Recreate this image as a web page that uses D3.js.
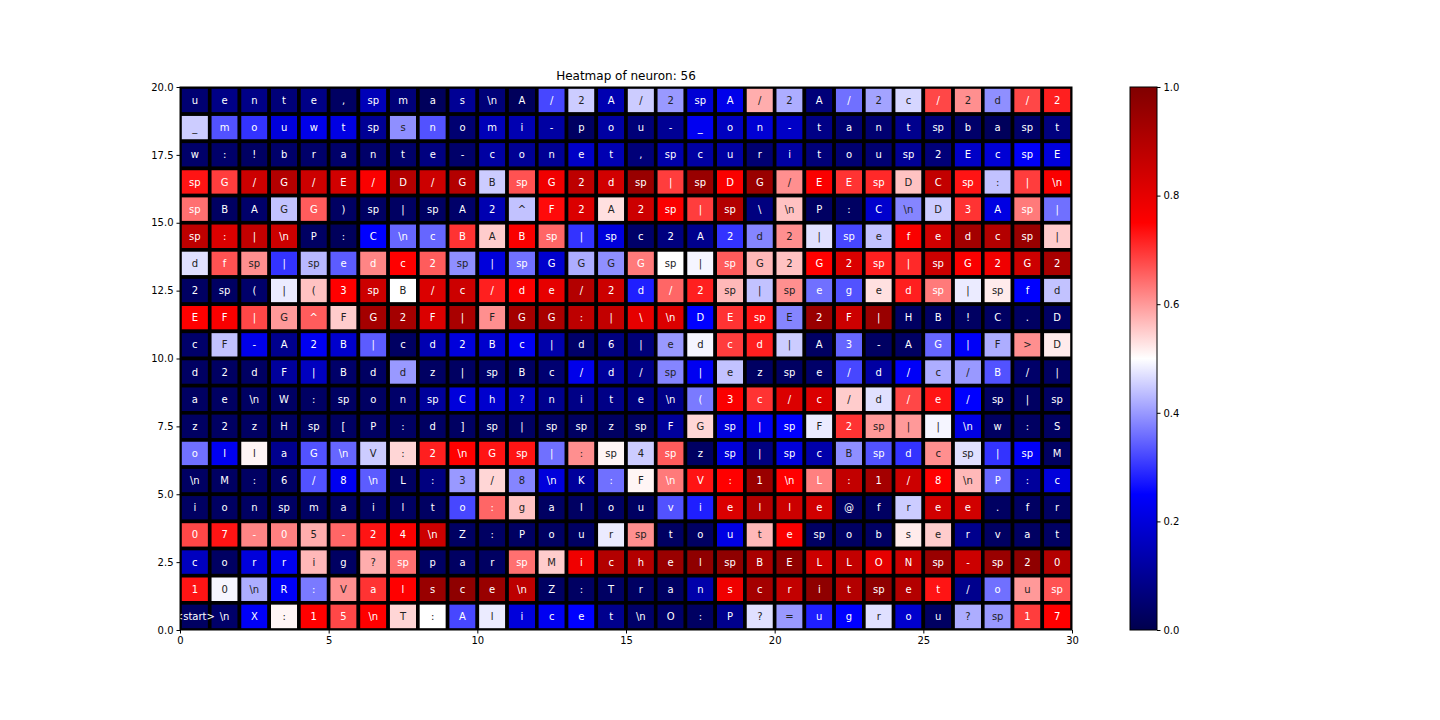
<!DOCTYPE html>
<html>
<head>
<meta charset="utf-8">
<script src="https://cdn.jsdelivr.net/npm/d3@7"></script>
<style>
body { margin: 0; background: #fff; }
text { font-family: "DejaVu Sans", sans-serif; }
</style>
</head>
<body>
<script>
// tokens, one row per line, top row of the heatmap first (y = 19)
var tokens = [
 ["u","e","n","t","e",",","sp","m","a","s","\\n","A","/","2","A","/","2","sp","A","/","2","A","/","2","c","/","2","d","/","2"],
 ["_","m","o","u","w","t","sp","s","n","o","m","i","-","p","o","u","-","_","o","n","-","t","a","n","t","sp","b","a","sp","t"],
 ["w",":","!","b","r","a","n","t","e","-","c","o","n","e","t",",","sp","c","u","r","i","t","o","u","sp","2","E","c","sp","E"],
 ["sp","G","/","G","/","E","/","D","/","G","B","sp","G","2","d","sp","|","sp","D","G","/","E","E","sp","D","C","sp",":","|","\\n"],
 ["sp","B","A","G","G",")","sp","|","sp","A","2","^","F","2","A","2","sp","|","sp","\\","\\n","P",":","C","\\n","D","3","A","sp","|"],
 ["sp",":","|","\\n","P",":","C","\\n","c","B","A","B","sp","|","sp","c","2","A","2","d","2","|","sp","e","f","e","d","c","sp","|"],
 ["d","f","sp","|","sp","e","d","c","2","sp","|","sp","G","G","G","G","sp","|","sp","G","2","G","2","sp","|","sp","G","2","G","2"],
 ["2","sp","(","|","(","3","sp","B","/","c","/","d","e","/","2","d","/","2","sp","|","sp","e","g","e","d","sp","|","sp","f","d"],
 ["E","F","|","G","^","F","G","2","F","|","F","G","G",":","|","\\","\\n","D","E","sp","E","2","F","|","H","B","!","C",".","D"],
 ["c","F","-","A","2","B","|","c","d","2","B","c","|","d","6","|","e","d","c","d","|","A","3","-","A","G","|","F",">","D"],
 ["d","2","d","F","|","B","d","d","z","|","sp","B","c","/","d","/","sp","|","e","z","sp","e","/","d","/","c","/","B","/","|"],
 ["a","e","\\n","W",":","sp","o","n","sp","C","h","?","n","i","t","e","\\n","(","3","c","/","c","/","d","/","e","/","sp","|","sp"],
 ["z","2","z","H","sp","[","P",":","d","]","sp","|","sp","sp","z","sp","F","G","sp","|","sp","F","2","sp","|","|","\\n","w",":","S"],
 ["o","l","l","a","G","\\n","V",":","2","\\n","G","sp","|",":","sp","4","sp","z","sp","|","sp","c","B","sp","d","c","sp","|","sp","M"],
 ["\\n","M",":","6","/","8","\\n","L",":","3","/","8","\\n","K",":","F","\\n","V",":","1","\\n","L",":","1","/","8","\\n","P",":","c"],
 ["i","o","n","sp","m","a","i","l","t","o",":","g","a","l","o","u","v","i","e","l","l","e","@","f","r","e","e",".","f","r"],
 ["0","7","-","0","5","-","2","4","\\n","Z",":","P","o","u","r","sp","t","o","u","t","e","sp","o","b","s","e","r","v","a","t"],
 ["c","o","r","r","i","g","?","sp","p","a","r","sp","M","i","c","h","e","l","sp","B","E","L","L","O","N","sp","-","sp","2","0"],
 ["1","0","\\n","R",":","V","a","l","s","c","e","\\n","Z",":","T","r","a","n","s","c","r","i","t","sp","e","t","/","o","u","sp"],
 ["<start>","\\n","X",":","1","5","\\n","T",":","A","l","i","c","e","t","\\n","O",":","P","?","=","u","g","r","o","u","?","sp","1","7"]
]

// activation of neuron 56 for each token, same layout
var acts = [
 [0.05,0.08,0.08,0.06,0.08,0.03,0.15,0.06,0.02,0.1, 0.06,0.02,0.32,0.45,0.14,0.45,0.4,0.19,0.22,0.58, 0.42,0.06,0.36,0.41,0.46,0.68,0.61,0.39,0.68,0.72],
 [0.45,0.33,0.3,0.2,0.22,0.21,0.1,0.39,0.33,0.05, 0.15,0.14,0.12,0.03,0.12,0.06,0.1,0.23,0.16,0.19, 0.17,0.08,0.05,0.05,0.09,0.06,0.04,0.02,0.04,0.07],
 [0.04,0.04,0.03,0.04,0.04,0.04,0.04,0.04,0.07,0.04, 0.12,0.1,0.1,0.17,0.14,0.06,0.13,0.12,0.12,0.05, 0.12,0.06,0.05,0.05,0.1,0.06,0.17,0.19,0.24,0.2],
 [0.73,0.69,0.85,0.9,0.85,0.84,0.76,0.9,0.85,0.9, 0.45,0.67,0.78,0.88,0.84,0.95,0.69,0.95,0.76,0.95, 0.61,0.76,0.7,0.71,0.56,0.87,0.73,0.44,0.69,0.76],
 [0.64,0.03,0.04,0.44,0.66,0.03,0.03,0.03,0.03,0.04, 0.14,0.44,0.74,0.82,0.53,0.85,0.76,0.69,0.9,0.07, 0.56,0.03,0.03,0.18,0.38,0.45,0.7,0.21,0.63,0.36],
 [0.88,0.82,0.87,0.85,0.03,0.02,0.25,0.35,0.35,0.7, 0.55,0.76,0.65,0.3,0.2,0.04,0.07,0.09,0.3,0.38, 0.61,0.47,0.32,0.44,0.76,0.84,0.93,0.9,0.95,0.55],
 [0.47,0.67,0.61,0.3,0.43,0.34,0.62,0.75,0.66,0.39, 0.2,0.36,0.18,0.42,0.39,0.63,0.5,0.49,0.66,0.57, 0.56,0.75,0.82,0.72,0.71,0.85,0.76,0.78,0.85,0.92],
 [0.03,0.03,0.04,0.48,0.56,0.75,0.85,0.5,0.82,0.85, 0.72,0.76,0.8,0.9,0.85,0.28,0.65,0.72,0.57,0.44, 0.61,0.36,0.33,0.53,0.72,0.63,0.48,0.52,0.25,0.44],
 [0.75,0.76,0.68,0.6,0.66,0.55,0.93,0.93,0.82,0.92, 0.61,0.93,0.92,0.88,0.87,0.8,0.82,0.25,0.7,0.73, 0.38,0.95,0.85,0.95,0.03,0.03,0.03,0.03,0.03,0.03],
 [0.04,0.44,0.22,0.09,0.23,0.18,0.34,0.03,0.14,0.2, 0.18,0.23,0.13,0.04,0.07,0.06,0.4,0.49,0.69,0.72, 0.45,0.03,0.35,0.03,0.03,0.35,0.24,0.42,0.61,0.52],
 [0.03,0.03,0.03,0.11,0.16,0.04,0.03,0.4,0.03,0.03, 0.04,0.03,0.05,0.22,0.11,0.08,0.38,0.23,0.44,0.03, 0.03,0.04,0.32,0.12,0.24,0.42,0.4,0.33,0.04,0.03],
 [0.03,0.03,0.03,0.03,0.03,0.03,0.03,0.04,0.11,0.2, 0.18,0.16,0.09,0.08,0.08,0.07,0.08,0.37,0.76,0.7, 0.82,0.82,0.55,0.47,0.68,0.73,0.25,0.03,0.03,0.03],
 [0.03,0.03,0.03,0.03,0.03,0.03,0.03,0.03,0.03,0.03, 0.03,0.03,0.03,0.03,0.03,0.03,0.11,0.54,0.2,0.23, 0.25,0.48,0.7,0.6,0.6,0.49,0.21,0.03,0.03,0.03],
 [0.36,0.23,0.51,0.09,0.33,0.35,0.45,0.54,0.72,0.75, 0.73,0.73,0.36,0.61,0.51,0.45,0.66,0.03,0.2,0.07, 0.2,0.13,0.39,0.33,0.3,0.61,0.47,0.3,0.24,0.03],
 [0.03,0.03,0.03,0.03,0.33,0.23,0.34,0.03,0.07,0.4, 0.54,0.38,0.2,0.11,0.36,0.51,0.63,0.73,0.75,0.95, 0.75,0.625,0.87,0.93,0.85,0.75,0.57,0.35,0.11,0.2],
 [0.03,0.03,0.03,0.03,0.03,0.03,0.03,0.03,0.03,0.32, 0.65,0.56,0.03,0.03,0.03,0.03,0.33,0.28,0.82,0.9, 0.85,0.84,0.03,0.03,0.45,0.84,0.84,0.03,0.03,0.03],
 [0.68,0.73,0.62,0.625,0.58,0.65,0.73,0.76,0.85,0.03, 0.03,0.03,0.03,0.03,0.48,0.61,0.03,0.03,0.21,0.57, 0.76,0.03,0.03,0.03,0.52,0.55,0.09,0.03,0.03,0.03],
 [0.16,0.03,0.2,0.23,0.57,0.03,0.58,0.64,0.03,0.03, 0.03,0.64,0.55,0.78,0.9,0.9,0.95,0.97,0.97,0.92, 0.97,0.85,0.87,0.8,0.85,0.95,0.85,0.95,0.97,0.9],
 [0.73,0.49,0.42,0.24,0.37,0.61,0.7,0.75,0.95,0.97, 0.95,0.88,0.03,0.03,0.03,0.03,0.03,0.13,0.78,0.93, 0.87,0.97,0.9,0.97,0.9,0.73,0.09,0.36,0.6,0.67],
 [0.03,0.04,0.24,0.51,0.75,0.68,0.75,0.54,0.5,0.32, 0.48,0.2,0.23,0.25,0.09,0.04,0.04,0.03,0.09,0.47, 0.4,0.28,0.25,0.47,0.18,0.03,0.42,0.4,0.69,0.75]
]

var xTicks = [0,5,10,15,20,25,30]
var yTicks = [0,2.5,5,7.5,10,12.5,15,17.5,20]
var cbTicks = [0,0.2,0.4,0.6,0.8,1.0]
var title = "Heatmap of neuron: 56"

var nCols = tokens[0].length
var nRows = tokens.length

// matplotlib "seismic"
var seismic = d3.scaleLinear()
	.domain([0,0.25,0.5,0.75,1])
	.range(["rgb(0,0,77)","rgb(0,0,255)","rgb(255,255,255)","rgb(255,0,0)","rgb(128,0,0)"])
	.interpolate(d3.interpolateRgb)
	.clamp(true)

var svg = d3.select("body").append("svg")
	.attr("width", 1440)
	.attr("height", 720)

var x = d3.scaleLinear().domain([0,nCols]).range([180,1072])
var y = d3.scaleLinear().domain([0,nRows]).range([630,87])

svg.append("text")
	.attr("x", (x(0)+x(nCols))/2)
	.attr("y", 80)
	.attr("text-anchor","middle")
	.style("font-size","12px")
	.text(title)

svg.append("clipPath").attr("id","plotclip")
	.append("rect")
	.attr("x", x(0)).attr("y", y(nRows))
	.attr("width", x(nCols)-x(0)).attr("height", y(0)-y(nRows))

var cells = []
tokens.forEach(function(row, r) {
	row.forEach(function(t, c) {
		cells.push({tok: t, v: acts[r][c], col: c, row: nRows-1-r})
	})
})

var plot = svg.append("g").attr("clip-path","url(#plotclip)")

plot.selectAll("rect.cell").data(cells).enter().append("rect")
	.attr("class","cell")
	.attr("x", function(d){ return x(d.col) })
	.attr("y", function(d){ return y(d.row+1) })
	.attr("width", function(d){ return x(d.col+1)-x(d.col) })
	.attr("height", function(d){ return y(d.row)-y(d.row+1) })
	.style("fill", function(d){ return seismic(d.v) })
	.style("stroke","black")
	.style("stroke-width",3.6)

svg.selectAll("text.tok").data(cells).enter().append("text")
	.attr("class","tok")
	.attr("x", function(d){ return x(d.col+0.5) })
	.attr("y", function(d){ return y(d.row+0.5) })
	.attr("dy","0.35em")
	.attr("text-anchor","middle")
	.style("font-size","10px")
	.style("fill", function(d){ return (d.v > 0.377 && d.v < 0.615) ? "#222" : "#fff" })
	.text(function(d){ return d.tok })

// axes
var xAxis = svg.append("g")
	.attr("transform","translate(0,630)")
	.call(d3.axisBottom(x).tickValues(xTicks).tickSize(3.5).tickPadding(3).tickFormat(d3.format("d")))
var yAxis = svg.append("g")
	.attr("transform","translate(180,0)")
	.call(d3.axisLeft(y).tickValues(yTicks).tickSize(3.5).tickPadding(3).tickFormat(d3.format(".1f")))
svg.selectAll(".tick text").style("font-size","10px").style("font-family","DejaVu Sans").style("fill","#000")
svg.selectAll(".domain").remove()

svg.append("rect")
	.attr("x", x(0)).attr("y", y(nRows))
	.attr("width", x(nCols)-x(0)).attr("height", y(0)-y(nRows))
	.style("fill","none").style("stroke","black").style("stroke-width",1)

// colorbar
var cbX = 1130, cbW = 27
var cb = d3.scaleLinear().domain([0,1]).range([630,87])
var grad = svg.append("defs").append("linearGradient")
	.attr("id","cbgrad").attr("x1",0).attr("y1",1).attr("x2",0).attr("y2",0)
d3.range(0,1.0001,0.05).forEach(function(t) {
	grad.append("stop").attr("offset", t).attr("stop-color", seismic(t))
})
svg.append("rect")
	.attr("x", cbX).attr("y", cb(1))
	.attr("width", cbW).attr("height", cb(0)-cb(1))
	.style("fill","url(#cbgrad)")
	.style("stroke","black").style("stroke-width",1)

var cbAxis = svg.append("g")
	.attr("transform","translate(" + (cbX+cbW) + ",0)")
	.call(d3.axisRight(cb).tickValues(cbTicks).tickSize(3.5).tickPadding(3).tickFormat(d3.format(".1f")))
cbAxis.select(".domain").remove()
cbAxis.selectAll("text").style("font-size","10px").style("font-family","DejaVu Sans").style("fill","#000")
</script>
</body>
</html>
